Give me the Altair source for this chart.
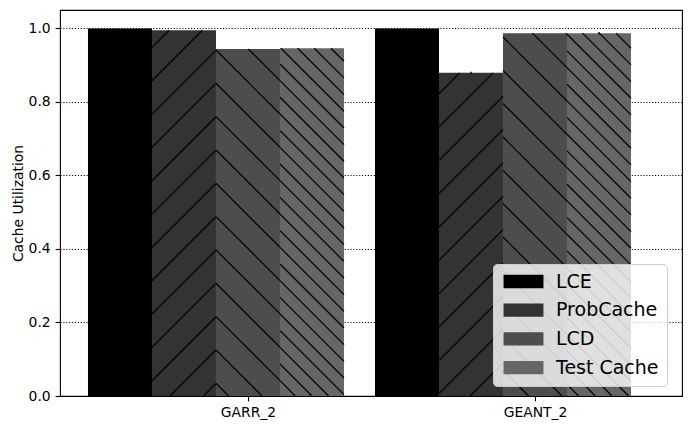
import json
import altair as alt
import pandas as pd

# ---- data ----
groups = ["GARR_2", "GEANT_2"]
series = ["LCE", "ProbCache", "LCD", "Test Cache"]
lce = [1.0, 1.0]
probcache = [0.995, 0.879]
lcd = [0.944, 0.987]
testcache = [0.946, 0.987]
err_lce = [0.0, 0.0]
err_probcache = [0.0, 0.003]
err_lcd = [0.0, 0.0]
err_testcache = [0.0, 0.003]

# ---- style ----
colors = ["#000000", "#333333", "#4d4d4d", "#666666"]
hatch_kind = [None, "/", "\\", "\\"]
hatch_step = [None, 33.33, 33.33, 16.67]
hatch_phase = [None, 29.4, 17.3, 0.67]
FONT = "DejaVu Sans"
W, H = 622, 386
bar_w = 0.223
x_min = -0.655
x_max = x_min + W / 287.0
y_max = 1.05

vals = [lce, probcache, lcd, testcache]
errs = [err_lce, err_probcache, err_lcd, err_testcache]

rows = []
for gi, g in enumerate(groups):
    for si, s in enumerate(series):
        c = gi + (si - 2) * bar_w
        rows.append(dict(group=g, series=s, left=c - bar_w / 2, right=c + bar_w / 2,
                         center=c, v=vals[si][gi], lo=vals[si][gi] - errs[si][gi],
                         hi=vals[si][gi] + errs[si][gi], base=0.0, order=si))
bars = pd.DataFrame(rows)


def px(x):
    return (x - x_min) / (x_max - x_min) * W


def py(y):
    return H * (1 - y / y_max)


def dx(p):
    return x_min + p / W * (x_max - x_min)


def dy(p):
    return y_max * (1 - p / H)


segs = []
for r in rows:
    si = r["order"]
    kind = hatch_kind[si]
    if kind is None:
        continue
    step, ph = hatch_step[si], hatch_phase[si]
    xl, xr = px(r["left"]), px(r["right"])
    yt, yb = py(r["v"]), py(0.0)
    if kind == "/":
        # px + py = c
        cmin, cmax = xl + yt, xr + yb
        k = int((cmin - ph) // step) - 1
        while True:
            c = ph + k * step
            k += 1
            if c > cmax:
                break
            lo = max(xl, c - yb)
            hi = min(xr, c - yt)
            if hi - lo > 0.3:
                segs.append(dict(x=dx(lo), y=dy(c - lo), x2=dx(hi), y2=dy(c - hi)))
    else:
        # py - px = c
        cmin, cmax = yt - xr, yb - xl
        k = int((cmin - ph) // step) - 1
        while True:
            c = ph + k * step
            k += 1
            if c > cmax:
                break
            lo = max(xl, yt - c)
            hi = min(xr, yb - c)
            if hi - lo > 0.3:
                segs.append(dict(x=dx(lo), y=dy(lo + c), x2=dx(hi), y2=dy(hi + c)))
hatch = pd.DataFrame(segs)

xscale = alt.Scale(domain=[x_min, x_max], nice=False, zero=False)
yscale = alt.Scale(domain=[0, y_max], nice=False, zero=False)

label_expr = json.dumps(groups) + "[datum.value]"

bar_layer = alt.Chart(bars).mark_rect(strokeWidth=0).encode(
    x=alt.X("left:Q", scale=xscale,
            axis=alt.Axis(values=[0, 1], labelExpr=label_expr, title=None, grid=False)),
    x2="right:Q",
    y=alt.Y("v:Q", scale=yscale,
            axis=alt.Axis(values=[0, 0.2, 0.4, 0.6, 0.8, 1.0], format=".1f",
                          title="Cache Utilization", grid=True)),
    y2="base:Q",
    color=alt.Color("series:N",
                    scale=alt.Scale(domain=series, range=colors),
                    legend=alt.Legend(
                        title=None, orient="none", legendX=433, legendY=254,
                        labelFontSize=19, labelFont=FONT, labelColor="black",
                        symbolType="M-3,-1H3V1H-3Z", symbolSize=177,
                        symbolStrokeWidth=0, symbolOpacity=1,
                        symbolOffset=13, labelOffset=23, rowPadding=8.7,
                        padding=8, fillColor="rgba(255,255,255,0.8)",
                        strokeColor="#cccccc", cornerRadius=4)),
)

hatch_layer = alt.Chart(hatch).mark_rule(color="black", strokeWidth=1.2).encode(
    x=alt.X("x:Q", scale=xscale), x2="x2:Q",
    y=alt.Y("y:Q", scale=yscale), y2="y2:Q",
)

err_layer = alt.Chart(bars).mark_rule(color="black", strokeWidth=1.4).encode(
    x=alt.X("center:Q", scale=xscale),
    y=alt.Y("lo:Q", scale=yscale), y2="hi:Q",
)

chart = alt.layer(bar_layer, hatch_layer, err_layer).properties(
    width=W, height=H,
    autosize=alt.AutoSizeParams(type="none"),
    padding={"left": 52, "top": 2, "right": 1, "bottom": 28},
).configure(
    background="white"
).configure_view(
    stroke="black", strokeWidth=1.1
).configure_axis(
    domain=False, tickColor="black", tickSize=4.9, tickWidth=1.1,
    labelFont=FONT, labelFontSize=13.9, labelColor="black", labelPadding=4.9,
    titleFont=FONT, titleFontSize=13.9, titleFontWeight="normal", titleColor="black",
    titlePadding=3, gridColor="black", gridWidth=1.0, gridDash=[1.1, 1.8], gridOpacity=1,
)

chart.save("out.html", embed_options={"renderer": "svg", "actions": False})
